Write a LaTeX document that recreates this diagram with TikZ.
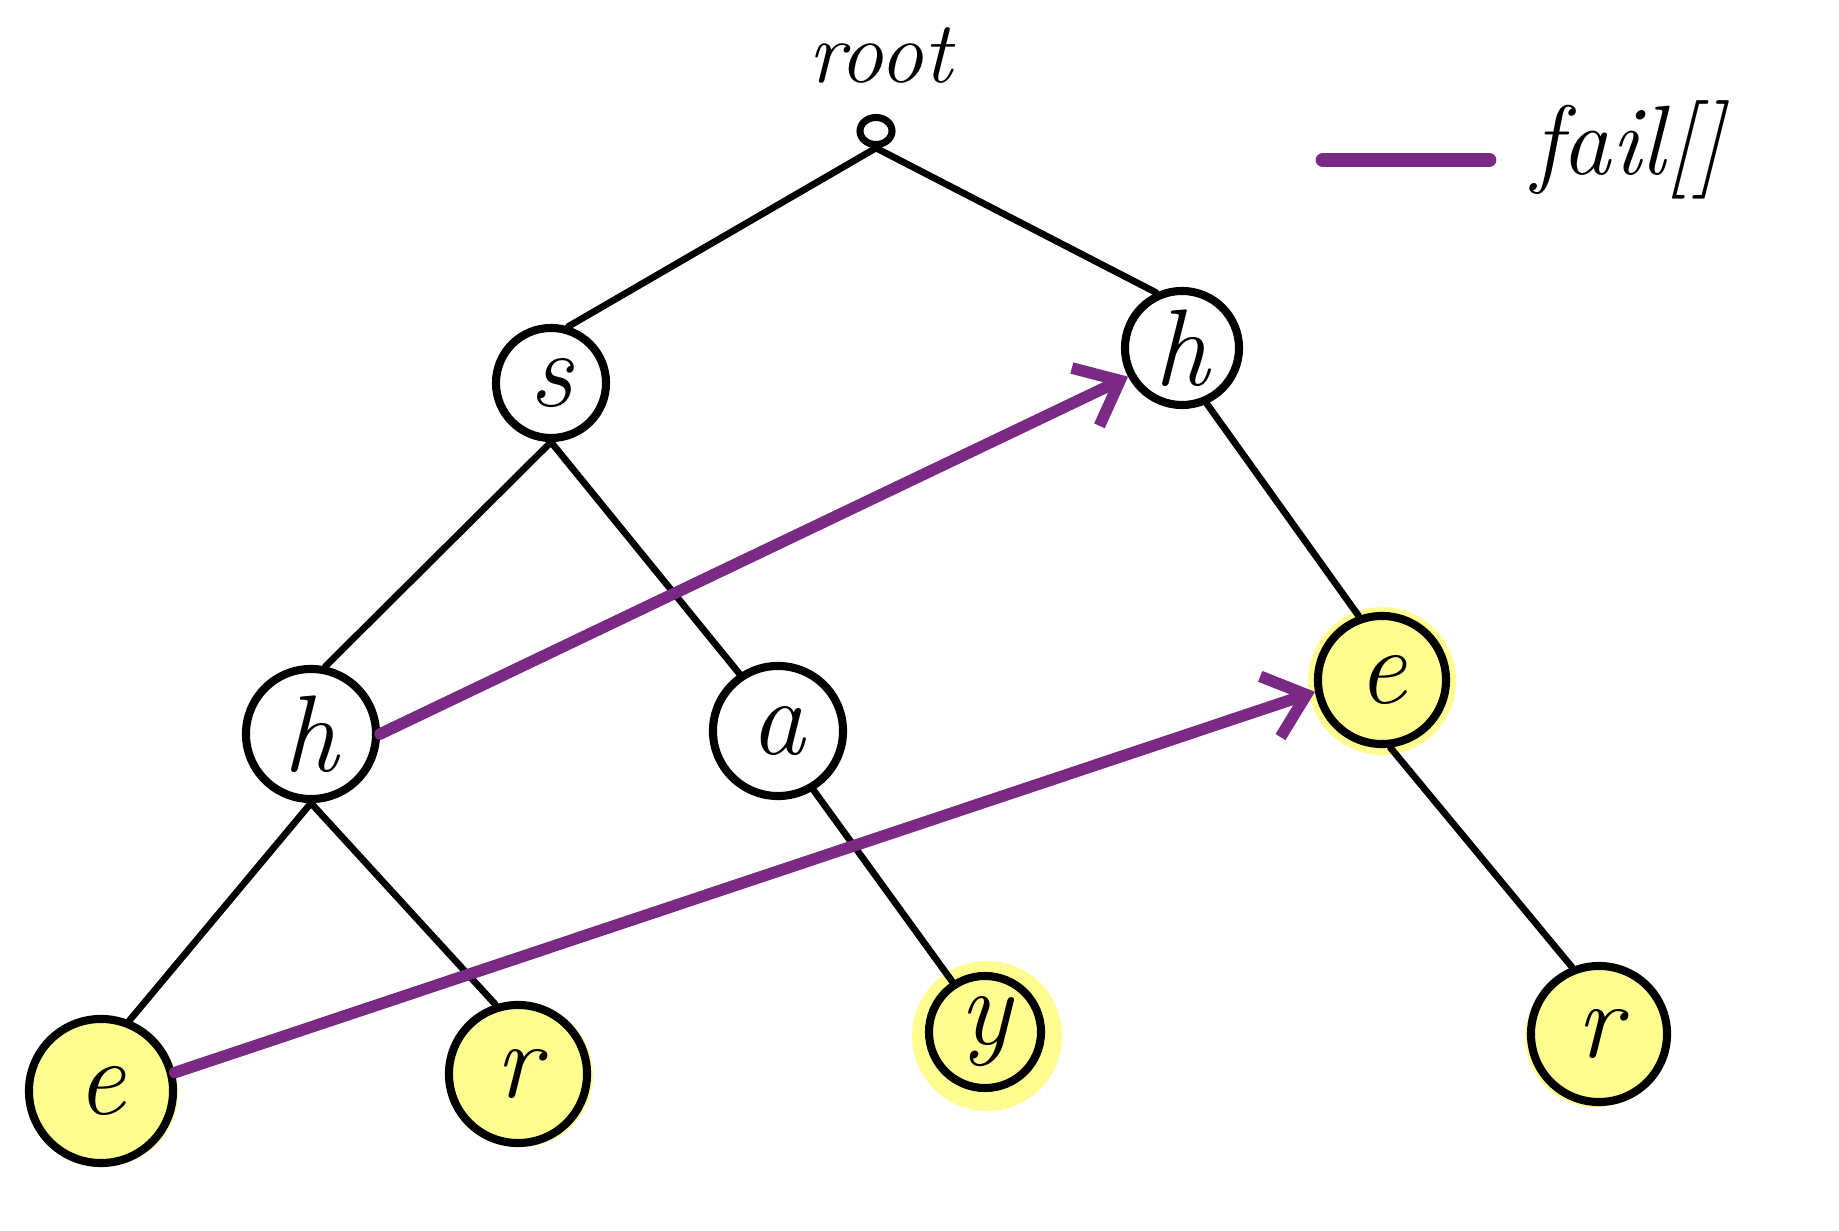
\documentclass[tikz,border=0pt]{standalone}
\usetikzlibrary{arrows.meta,shapes.geometric}
\definecolor{hlyel}{RGB}{255,253,143}
\definecolor{failc}{RGB}{122,42,133}
\begin{document}
\begin{tikzpicture}[x=0.01cm,y=-0.01cm,
  tnode/.style={circle, draw=black, line width=2.3pt, fill=white, inner sep=0pt, font=\fontsize{31}{31}\selectfont\itshape},
  leaf/.style={tnode, fill=hlyel},
  glow/.style={fill=hlyel, draw=none},
  edge/.style={draw=black, line width=1.9pt, line cap=round},
  failarrow/.style={draw=failc, line width=3.3pt, line cap=round, -{Straight Barb[length=0.38cm,width=0.64cm,line width=3.3pt]}},
  lbl/.style={font=\fontsize{28}{28}\selectfont\itshape}]
\useasboundingbox (0,0) rectangle (1839,1231);
% highlight blobs
\fill[glow] (105,1093) circle (73);
\fill[glow] (521,1075) circle (72);
\fill[glow] (987,1036) circle (75);
\fill[glow] (1382,681) circle (74);
\fill[glow] (1595,1037) circle (70);
% root
\node[lbl, font=\fontsize{25}{25}\selectfont\itshape] (rootlabel) at (880,55) {root};
\node[ellipse, draw=black, line width=2pt, minimum width=0.32cm, minimum height=0.27cm, inner sep=0pt] (root) at (876,131) {};
% nodes
\node[tnode, minimum size=1.10cm] (s) at (551,383) {s};
\node[tnode, minimum size=1.14cm] (hr) at (1182,348) {h};
\node[tnode, minimum size=1.30cm] (hl) at (311,734) {h};
\node[tnode, minimum size=1.30cm] (a) at (778,731) {a};
\node[leaf, minimum size=1.28cm] (er) at (1382,680) {e};
\node[leaf, minimum size=1.44cm] (el) at (101,1091) {e};
\node[leaf, minimum size=1.38cm] (rb) at (518,1074) {r};
\node[leaf, minimum size=1.12cm] (y) at (985,1032) {y};
\node[leaf, minimum size=1.36cm] (rr) at (1599,1034) {r};
% tree edges
\draw[edge] (root.south) -- (s.73);
\draw[edge] (root.south) -- (hr.115);
\draw[edge] (s.south) -- (hl.78);
\draw[edge] (s.south) -- (a.124);
\draw[edge] (hl.south) -- (el.68);
\draw[edge] (hl.south) -- (rb.108);
\draw[edge] (a.301) -- (y.123);
\draw[edge] (hr.294) -- (er.110);
\draw[edge] (er.277) -- (rr.112);
% fail links
\draw[failarrow] (hl.east) -- (hr.208);
\draw[failarrow] (el.14) -- (er.190);
% legend
\coordinate (legA) at (1323,160);
\coordinate (legB) at (1489,160);
\draw[draw=failc, line width=4.2pt, line cap=round] (legA) -- (legB);
\node[lbl, anchor=west] (legtext) at (1520,150) {fail[]};
\end{tikzpicture}
\end{document}
